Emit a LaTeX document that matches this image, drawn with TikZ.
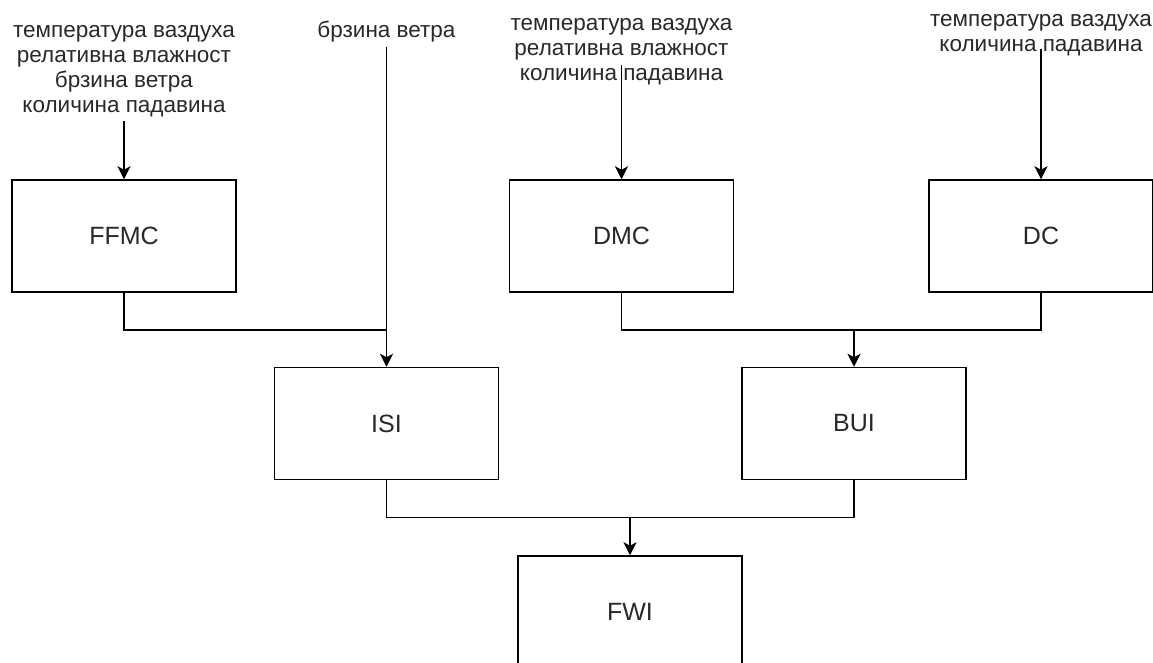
\documentclass[tikz,border=0pt]{standalone}
\usepackage{fontspec}
\setmainfont{Liberation Sans}
\usepackage{xcolor}
\usepackage{tikz}
\usetikzlibrary{
  arrows.meta,
  positioning,
  calc
}
\definecolor{InkGray}{RGB}{40,40,40}
\tikzset{
  %%── index boxes ─────────────────────────────
  blk/.style = {
    rectangle, draw = black, line width = 1.5pt,
    minimum width = 224pt, minimum height = 112pt,
    inner sep = 0pt, align = center,
    font = \fontsize{25}{28}\selectfont, text = InkGray
  },
  %%── input labels ────────────────────────────
  inlbl/.style = {
    inner sep = 4pt, align = center,
    font = \fontsize{22.5}{25}\selectfont, text = InkGray
  },
  %%── connectors ──────────────────────────────
  ln/.style  = {line width = 1.5pt, color = black},
  arr/.style = {-{Stealth[length=13pt, width=13pt, inset=3.5pt]},
                line width = 1.5pt, color = black},
}

\begin{document}
\begin{tikzpicture}[x=1pt, y=-1pt]

  \useasboundingbox (0,0) rectangle (1153,662);
  \clip (0,0) rectangle (1153,662);

  %% first row
  \node[blk] (ffmc) at (124,236) {FFMC};
  \node[blk, right=272pt of ffmc] (dmc) {DMC};
  \node[blk, right=194pt of dmc]  (dc)  {DC};

  %% second row
  \node[blk, below right=74pt and 37pt of ffmc] (isi) {ISI};
  \node[blk, below right=74pt and 7pt of dmc]   (bui) {BUI};

  %% third row
  \node[blk, below right=75pt and 18pt of isi] (fwi) {FWI};

  %% inputs
  \node[inlbl, above=58pt of ffmc] (inffmc)
    {температура ваздуха\\релативна влажност\\брзина ветра\\количина падавина};
  \node[inlbl, above=320pt of isi] (inwind) {брзина ветра};
  \node[inlbl, above=90pt of dmc] (indmc)
    {температура ваздуха\\релативна влажност\\количина падавина};
  \node[inlbl, above=119pt of dc] (indc)
    {температура ваздуха\\количина падавина};

  \coordinate[above=114pt of dmc.north] (dmcsrc);
  \coordinate[above=130pt of dc.north]  (dcsrc);

  %% junctions
  \coordinate[below=37pt of ffmc.south] (jffmc);
  \coordinate[below=37pt of dmc.south]  (jdmc);
  \coordinate[below=37pt of isi.south]  (jisi);

  %% arrows
  \draw[arr] (inffmc) -- (ffmc);
  \draw[arr] (inwind) -- (isi);
  \draw[arr] (dmcsrc) -- (dmc);
  \draw[arr] (dcsrc)  -- (dc);

  \draw[ln]  (ffmc.south) -- (jffmc) -- (jffmc -| isi.north);
  \draw[ln]  (dmc.south) -- (jdmc) -| (dc.south);
  \draw[arr] (jdmc -| bui.north) -- (bui);
  \draw[ln]  (isi.south) -- (jisi) -| (bui.south);
  \draw[arr] (jisi -| fwi.north) -- (fwi);

\end{tikzpicture}
\end{document}
